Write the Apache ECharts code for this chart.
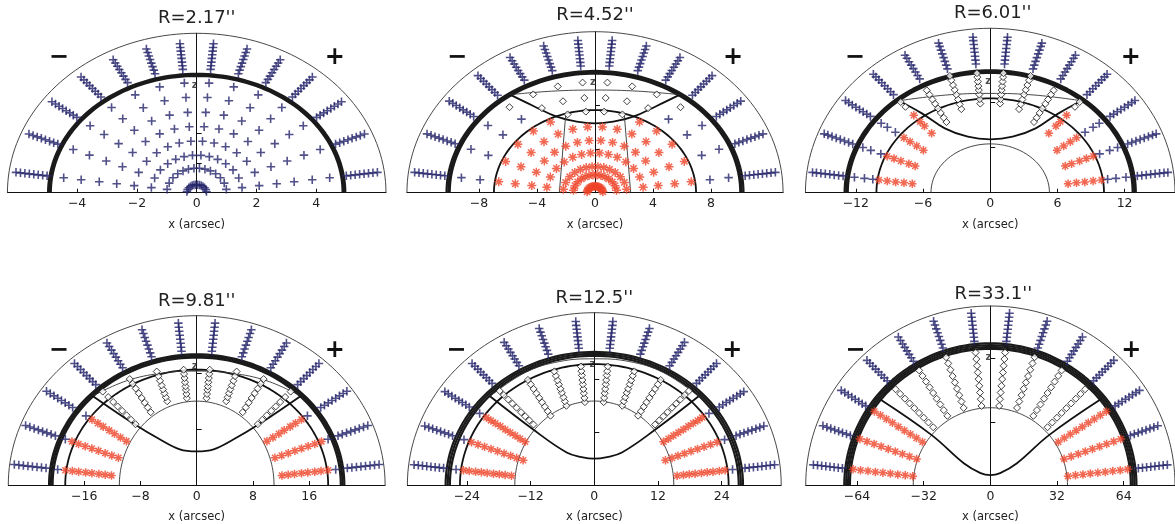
<!DOCTYPE html>
<html>
<head>
<meta charset="utf-8">
<title>Radial sampling panels</title>
<script src="https://cdn.jsdelivr.net/npm/echarts@6/dist/echarts.min.js"></script>
<style>
  html, body { margin: 0; padding: 0; background: #fff; }
  #chart { width: 1175px; height: 524px; }
</style>
</head>
<body>
<div id="chart"></div>
<script>
// ---------- values ----------
const titles = ["R=2.17''", "R=4.52''", "R=6.01''", "R=9.81''", "R=12.5''", "R=33.1''"];
const xTicks = [[-4, -2, 0, 2, 4], [-8, -4, 0, 4, 8], [-12, -6, 0, 6, 12],
                [-16, -8, 0, 8, 16], [-24, -12, 0, 12, 24], [-64, -32, 0, 32, 64]];
const zTicks = [[1, 2], [3, 6], [4, 8], [8, 16], [10, 20], [30, 60]];
// spokes, degrees up from the -x side (mirrored onto the +x side)
const spokeAngles = [6.43, 19.29, 32.14, 45, 57.86, 70.71, 83.57];
const allSpokes = [0, 1, 2, 3, 4, 5, 6];

const xMax = [6.33, 12.97, 16.5, 26.8, 35.2, 88.6];
const bandA = [[4.88, 4.93, 4.97], [10.02, 10.12, 10.24], [12.72, 12.86, 13.0],
               [20.5, 20.75, 21.0], [27.2, 27.6, 28.0], [67.4, 68.3, 69.2, 70.1]];
const bandK = [0.8, 0.82, 0.83, 0.89, 0.9, 0.96];
const midRing = [null, [6.97, 5.7], [10.16, 8.31], [18.7, 16.5], [25.3, 22.9], null];
const innerRing = [null, null, [5.29, 4.3], [11.0, 12.0], [14.97, 15.9], [37.0, 36.7]];
// left half of the lens curves, from the band junction to x=0
const lensThick = [null,
  [[-5.86, 6.76], [-4.25, 5.98], [-2.64, 5.24], [-1.26, 4.9], [0, 4.78]],
  [[-8.16, 8.1], [-6.1, 6.99], [-4.05, 5.67], [-2.0, 4.93], [0, 4.7]],
  [[-14.8, 12.75], [-9.0, 8.8], [-5.2, 6.5], [-2.4, 5.1], [0, 4.8]],
  [[-19.65, 16.8], [-11.5, 10.5], [-5.2, 6.15], [-2.4, 5.3], [0, 5.0]],
  [[-52.8, 40.6], [-28.3, 23.8], [-12.6, 10.2], [-4.7, 5.67], [0, 4.72]]];
const lensThin = [null,
  [[-5.86, 6.76], [-3, 7.0], [0, 7.08]],
  [[-8.16, 8.1], [-4, 8.6], [0, 8.75]],
  [[-14.8, 12.75], [-10, 14.9], [-5, 16.0], [0, 16.3]],
  [[-19.65, 16.8], [-13, 21.3], [-6.5, 23.4], [0, 23.9]],
  null];
const p2Chord = [[-2.46, 0], [-2.02, 5.4]];

const outerPlusA = [
  [5.05, 5.2, 5.35, 5.5, 5.65, 5.8, 5.95, 6.1],
  [10.45, 10.75, 11.05, 11.35, 11.65, 11.95, 12.25, 12.55],
  [13.25, 13.65, 14.05, 14.45, 14.85, 15.25, 15.65, 16.0],
  [21.6, 22.25, 22.9, 23.55, 24.2, 24.85, 25.5, 26.15],
  [28.6, 29.4, 30.2, 31.0, 31.8, 32.6, 33.4, 34.2],
  [71.5, 73.5, 75.5, 77.5, 79.5, 81.5, 83.5, 85.5]];
const outerPlusK = [0.82, 0.84, 0.86, 0.89, 0.91, 0.96];

// interior markers: [kind, spokes, radii, flattening]
const p1Marks = [['plus', allSpokes, [0.33, 1.0, 1.53, 2.11, 2.7, 3.29, 3.9, 4.49], 0.82]];
const p2Marks = [
  ['plus', [0, 1, 2], [8.0, 9.3], 0.82], ['plus', [3], [8.0], 0.82],
  ['dia', [3], [9.3], 0.82], ['dia', [4, 5, 6], [8.0, 9.3], 0.82], ['dia', [5, 6], [6.85], 0.82],
  ['red', allSpokes, [0.55, 1.5, 2.2, 3.35, 4.4, 5.55], 0.82], ['red', [0, 1, 2, 3, 4], [6.7], 0.82]];
const p3Marks = [
  ['red', [0], [7.0, 7.75, 8.5, 9.25, 10.0], 1], ['red', [1], [7.1, 7.7, 8.45, 9.1, 9.75], 1],
  ['red', [2], [7.05, 7.75, 8.45, 9.1], 1], ['red', [3], [7.4, 8.3, 8.85, 9.65], 1],
  ['plus', [0], [10.55, 11.3, 12.2], 1], ['plus', [1], [10.35, 11.3, 12.05], 1],
  ['plus', [2], [10.0, 10.85, 11.5], 1],
  ['dia', [3], [10.7, 11.3], 1],
  ['dia', [4], [7.35, 7.8, 8.3, 8.75, 9.25, 9.7, 10.2, 10.65], 1],
  ['dia', [5], [7.8, 8.25, 8.7, 9.15, 9.6, 10.05, 10.5, 10.9], 1],
  ['dia', [6], [7.9, 8.3, 8.7, 9.1, 9.45, 9.85, 10.25, 10.6], 1]];
const p4Marks = [
  ['red', [0], [12.2, 13.1, 14.0, 15.0, 15.9, 16.9, 17.8, 18.8], 1],
  ['red', [1], [11.8, 12.8, 13.8, 14.8, 15.8, 16.8, 17.8, 18.8], 1],
  ['red', [2], [11.8, 12.8, 13.8, 14.7, 15.7, 16.6, 17.6], 1],
  ['plus', [0], [19.9], 1], ['plus', [1], [19.8], 1], ['plus', [2], [18.6], 1],
  ['dia', [3], [12.3, 13.2, 14.1, 15.0, 15.9, 16.8, 17.8, 18.9], 1],
  ['dia', [4], [12.3, 13.1, 13.9, 14.7, 15.5, 16.3, 17.1, 17.9], 1],
  ['dia', [5], [12.7, 13.3, 13.9, 14.5, 15.1, 15.8, 16.5, 17.2], 1],
  ['dia', [6], [12.5, 13.1, 13.7, 14.2, 14.8, 15.4, 16.0, 16.6], 1]];
const p5Marks = [
  ['red', [0], [15.7, 16.9, 18.0, 19.1, 20.3, 21.4, 22.5, 23.7, 24.8], 1],
  ['red', [1], [14.2, 15.5, 16.7, 18.0, 19.3, 20.6, 21.9, 23.2, 24.5], 1],
  ['red', [2], [15.4, 16.5, 17.6, 18.7, 19.8, 20.9, 22.0, 23.0, 24.0], 1],
  ['plus', [0], [26.2], 1], ['plus', [1], [26.0], 1], ['plus', [2], [25.5], 1],
  ['dia', [3], [16.2, 17.3, 18.4, 19.5, 20.7, 21.8, 22.9, 24.1, 25.2], 1],
  ['dia', [4], [15.5, 16.5, 17.5, 18.5, 19.5, 20.5, 21.5, 22.5, 23.5], 1],
  ['dia', [5], [15.9, 16.8, 17.6, 18.5, 19.3, 20.2, 21.0, 21.9, 22.8], 1],
  ['dia', [6], [15.8, 16.6, 17.5, 18.3, 19.2, 20.0, 20.9, 21.7, 22.6], 1]];
const p6Marks = [
  ['red', [0, 1], [37.5, 41.1, 44.7, 48.3, 51.9, 55.5, 59.1, 62.7, 66.3], 1],
  ['red', [2], [38.5, 41.9, 45.3, 48.7, 52.1, 55.5, 58.9, 62.3, 65.7], 1],
  ['dia', [3, 4, 5], [38.8, 42.0, 45.2, 48.4, 51.6, 54.8, 58.0, 61.2, 64.3], 1],
  ['dia', [6], [37.8, 41.0, 44.2, 47.4, 50.6, 53.8, 57.0, 60.2, 63.3], 1]];
const panelMarks = [p1Marks, p2Marks, p3Marks, p4Marks, p5Marks, p6Marks];

// ---------- layout (pixels) ----------
const zeroX = [196.7, 595, 992.7, 196.7, 594.3, 993.3];
const baseY = [192.7, 192.7, 192.7, 486, 486, 486];
const pxUnit = [29.9, 14.5, 11.35, 7.03, 5.31, 2.117];
const topPx = [159.4, 161, 164.4, 170.3, 173.3, 180];
const titleY = [18, 15.5, 13.5, 301.5, 298, 294.5];

const NAVY = '#26256b';
const RED = '#ee4428';
const PLUS = 'path://M5,0L5,10M0,5L10,5';
const STAR = 'path://M5,0L5,10M0,5L10,5M1.5,1.5L8.5,8.5M8.5,1.5L1.5,8.5';
const DIAM = 'path://M5,0L10,5L5,10L0,5Z';
const FONT = '"DejaVu Sans", sans-serif';

function ellipse(a, b) {
  const pts = [];
  for (let t = 0; t <= 180; t += 2) {
    const r = t * Math.PI / 180;
    pts.push([a * Math.cos(r), b * Math.sin(r)]);
  }
  return pts;
}
function mirrorCurve(half) {
  const right = half.slice(0, -1).reverse().map(p => [-p[0], p[1]]);
  return half.concat(right);
}
// point on spoke, on a ring with semi-axes a and k*a
function spokePoint(a, deg, k, side) {
  const t = deg * Math.PI / 180;
  const c = Math.cos(t), s = Math.sin(t);
  const r = a * k / Math.sqrt(k * k * c * c + s * s);
  return [side * r * c, r * s];
}

const grids = [], xAxes = [], yAxes = [], series = [], graphics = [];

for (let i = 0; i < 6; i++) {
  const u = pxUnit[i];
  const yMax = topPx[i] / u;
  grids.push({ left: zeroX[i] - xMax[i] * u, width: 2 * xMax[i] * u,
               top: baseY[i] - topPx[i], height: topPx[i] });
  xAxes.push({
    gridIndex: i, type: 'value', min: -xMax[i], max: xMax[i],
    name: 'x (arcsec)', nameLocation: 'middle', nameGap: 26,
    nameTextStyle: { fontFamily: FONT, fontSize: 11.5, color: '#222' },
    axisLine: { onZero: false, lineStyle: { color: '#111', width: 1 } },
    axisTick: { inside: true, length: 4, customValues: xTicks[i], lineStyle: { color: '#111' } },
    axisLabel: { customValues: xTicks[i], margin: 5, fontFamily: FONT, fontSize: 12.5, color: '#222',
                 formatter: v => String(v).replace('-', '\u2212') },
    splitLine: { show: false }
  });
  yAxes.push({
    gridIndex: i, type: 'value', min: 0, max: yMax,
    axisLine: { show: true, onZero: true, lineStyle: { color: '#111', width: 1 } },
    axisTick: { show: true, inside: true, length: 5, customValues: zTicks[i], lineStyle: { color: '#111' } },
    axisLabel: { show: false },
    splitLine: { show: false }
  });

  const line = (data, color, width, smooth) => series.push({
    type: 'line', xAxisIndex: i, yAxisIndex: i, data, symbol: 'none', silent: true,
    smooth: smooth || false, lineStyle: { color, width }, z: 2, clip: false
  });

  line(ellipse(xMax[i], yMax), '#333', 0.9);
  bandA[i].forEach(a => line(ellipse(a, a * bandK[i]), '#1a1a1a', 2.2));
  if (midRing[i]) line(ellipse(midRing[i][0], midRing[i][1]), '#111', 1.8);
  if (innerRing[i]) line(ellipse(innerRing[i][0], innerRing[i][1]), '#333', 0.9);
  if (lensThick[i]) line(mirrorCurve(lensThick[i]), '#111', 1.8, 0.4);
  if (lensThin[i]) line(mirrorCurve(lensThin[i]), '#333', 0.9, 0.4);
  if (i === 1) {
    line(p2Chord, '#333', 0.9);
    line(p2Chord.map(p => [-p[0], p[1]]), '#333', 0.9);
  }

  const pts = { plus: [], red: [], dia: [] };
  const groups = [['plus', allSpokes, outerPlusA[i], outerPlusK[i]]].concat(panelMarks[i]);
  groups.forEach(([kind, spokes, radii, k]) => {
    spokes.forEach(s => radii.forEach(a => {
      pts[kind].push(spokePoint(a, spokeAngles[s], k, -1));
      pts[kind].push(spokePoint(a, spokeAngles[s], k, 1));
    }));
  });
  const scatter = (data, symbol, size, style) => series.push({
    type: 'scatter', xAxisIndex: i, yAxisIndex: i, data, symbol, symbolSize: size,
    itemStyle: style, silent: true, z: 3, clip: false
  });
  scatter(pts.dia, DIAM, 7, { color: '#fff', borderColor: '#111', borderWidth: 1 });
  scatter(pts.red, STAR, i === 1 ? 9 : 8.5, { color: 'rgba(0,0,0,0)', borderColor: RED, borderWidth: 1.5 });
  scatter(pts.plus, PLUS, 8.5, { color: 'rgba(0,0,0,0)', borderColor: NAVY, borderWidth: 1.6 });

  // "z" label just under the band top, on the vertical axis
  const zY = bandA[i][0] * bandK[i] - 9 / u;
  series.push({
    type: 'scatter', xAxisIndex: i, yAxisIndex: i, data: [[0, zY]], symbolSize: 1,
    itemStyle: { color: 'rgba(0,0,0,0)' }, silent: true, z: 4,
    label: { show: true, position: 'inside', offset: [-2, 0], formatter: 'z',
             fontFamily: FONT, fontSize: 10, fontWeight: 'bold', color: '#222' }
  });

  graphics.push({ type: 'text', x: zeroX[i], y: titleY[i], silent: true,
    style: { text: titles[i], fill: '#222', font: '18px ' + FONT, align: 'center', verticalAlign: 'middle' } });
  graphics.push({ type: 'text', x: zeroX[i] - 138, y: baseY[i] - 135, silent: true,
    style: { text: '\u2212', fill: '#111', font: 'bold 24px ' + FONT, align: 'center', verticalAlign: 'middle' } });
  graphics.push({ type: 'text', x: zeroX[i] + 138, y: baseY[i] - 135, silent: true,
    style: { text: '+', fill: '#111', font: 'bold 24px ' + FONT, align: 'center', verticalAlign: 'middle' } });
}

const chart = echarts.init(document.getElementById('chart'));
chart.setOption({
  animation: false,
  backgroundColor: '#fff',
  grid: grids,
  xAxis: xAxes,
  yAxis: yAxes,
  series: series,
  graphic: graphics
});
</script>
</body>
</html>
